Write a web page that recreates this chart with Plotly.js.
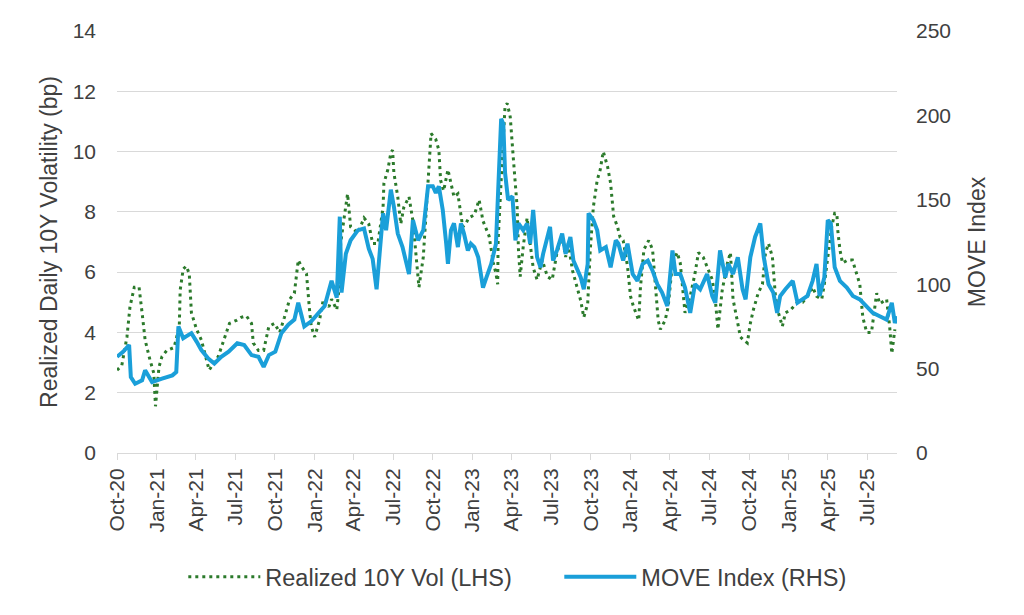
<!DOCTYPE html>
<html>
<head>
<meta charset="utf-8">
<script src="https://cdn.plot.ly/plotly-3.0.1.min.js"></script>
<style>html,body{margin:0;padding:0;background:#fff}#chart{width:1024px;height:615px}</style>
</head>
<body>
<div id="chart"></div>
<script>
// MOVE Index (RHS)
const moveDates = ["2020-10-01","2020-10-15","2020-10-29","2020-11-02","2020-11-12","2020-11-28","2020-12-05","2020-12-21","2021-01-13","2021-02-06","2021-02-15","2021-02-20","2021-03-03","2021-03-22","2021-04-03","2021-04-14","2021-04-30","2021-05-14","2021-05-30","2021-06-16","2021-07-06","2021-07-22","2021-08-08","2021-08-24","2021-09-05","2021-09-17","2021-10-02","2021-10-16","2021-11-01","2021-11-15","2021-11-24","2021-12-08","2021-12-24","2022-01-10","2022-01-24","2022-02-09","2022-02-21","2022-02-28","2022-03-04","2022-03-14","2022-03-25","2022-04-11","2022-04-25","2022-05-06","2022-05-15","2022-05-24","2022-06-08","2022-06-15","2022-06-26","2022-07-03","2022-07-12","2022-07-23","2022-08-07","2022-08-16","2022-08-28","2022-09-09","2022-09-20","2022-10-01","2022-10-08","2022-10-15","2022-10-24","2022-11-01","2022-11-05","2022-11-12","2022-11-19","2022-11-28","2022-12-05","2022-12-12","2022-12-21","2022-12-28","2023-01-05","2023-01-14","2023-01-25","2023-02-02","2023-02-13","2023-02-24","2023-03-01","2023-03-08","2023-03-13","2023-03-17","2023-03-24","2023-04-03","2023-04-10","2023-04-17","2023-04-28","2023-05-07","2023-05-14","2023-05-21","2023-05-30","2023-06-07","2023-06-13","2023-06-29","2023-07-06","2023-07-15","2023-07-27","2023-08-04","2023-08-15","2023-08-22","2023-09-08","2023-09-15","2023-09-24","2023-09-26","2023-10-07","2023-10-16","2023-10-23","2023-11-05","2023-11-16","2023-11-28","2023-12-04","2023-12-15","2023-12-25","2024-01-06","2024-01-17","2024-01-29","2024-02-10","2024-02-21","2024-03-03","2024-03-14","2024-03-26","2024-04-07","2024-04-14","2024-04-25","2024-05-06","2024-05-18","2024-05-29","2024-06-10","2024-06-26","2024-07-08","2024-07-15","2024-07-26","2024-08-07","2024-08-14","2024-08-25","2024-09-05","2024-09-16","2024-09-23","2024-10-04","2024-10-15","2024-10-27","2024-11-04","2024-11-15","2024-11-26","2024-12-05","2024-12-12","2024-12-24","2025-01-10","2025-01-21","2025-02-02","2025-02-13","2025-02-25","2025-03-06","2025-03-13","2025-03-24","2025-04-01","2025-04-08","2025-04-17","2025-04-29","2025-05-15","2025-05-29","2025-06-14","2025-06-30","2025-07-14","2025-07-30","2025-08-15","2025-08-27","2025-09-03","2025-09-08"];
const moveValues = [57,60,64,45,41,43,49,42,44,46,48,75,68,71,66,61,56,53,57,60,65,64,58,57,51,58,60,71,76,79,89,75,78,83,87,102,92,140,95,118,126,132,133,121,115,97,142,132,156,146,130,122,106,138,126,132,158,158,154,158,144,124,112,132,136,122,136,130,120,124,122,116,98,104,112,124,156,198,195,166,150,152,126,136,132,136,124,144,116,110,118,134,114,120,130,118,128,114,104,97,112,142,138,132,120,122,110,126,124,114,124,106,102,112,114,108,100,95,87,120,106,106,98,83,100,97,106,93,89,120,104,112,106,116,97,91,116,128,136,116,100,95,83,93,97,102,89,91,93,102,112,93,104,138,136,110,102,98,93,91,87,83,81,79,89,77,81];

// Realized 10Y Vol (LHS)
const volDates = ["2020-10-01","2020-10-12","2020-10-24","2020-10-31","2020-11-10","2020-11-21","2020-11-28","2020-12-05","2020-12-16","2020-12-25","2020-12-29","2021-01-06","2021-01-13","2021-01-24","2021-02-10","2021-02-22","2021-02-24","2021-03-03","2021-03-10","2021-03-17","2021-03-22","2021-04-03","2021-04-14","2021-05-02","2021-05-23","2021-06-11","2021-06-18","2021-07-04","2021-07-15","2021-07-27","2021-08-08","2021-08-12","2021-08-24","2021-09-05","2021-09-17","2021-09-30","2021-10-12","2021-10-23","2021-11-04","2021-11-15","2021-11-24","2021-12-01","2021-12-13","2021-12-20","2021-12-24","2022-01-01","2022-01-12","2022-01-21","2022-02-03","2022-02-09","2022-02-21","2022-02-25","2022-03-02","2022-03-09","2022-03-18","2022-03-25","2022-04-11","2022-04-25","2022-05-06","2022-05-15","2022-05-27","2022-06-08","2022-06-10","2022-06-19","2022-06-26","2022-06-30","2022-07-03","2022-07-12","2022-07-19","2022-07-26","2022-08-07","2022-08-16","2022-08-23","2022-08-30","2022-09-09","2022-09-15","2022-09-20","2022-09-27","2022-10-08","2022-10-15","2022-10-19","2022-10-26","2022-11-05","2022-11-12","2022-11-19","2022-11-28","2022-12-09","2022-12-16","2022-12-23","2023-01-05","2023-01-16","2023-01-25","2023-02-02","2023-02-08","2023-02-18","2023-02-24","2023-02-28","2023-03-01","2023-03-10","2023-03-17","2023-03-22","2023-03-29","2023-04-05","2023-04-14","2023-04-17","2023-04-21","2023-04-28","2023-05-07","2023-05-14","2023-05-21","2023-05-30","2023-06-11","2023-06-23","2023-07-04","2023-07-15","2023-07-27","2023-08-04","2023-08-10","2023-08-20","2023-09-01","2023-09-08","2023-09-15","2023-09-24","2023-09-30","2023-10-07","2023-10-16","2023-10-23","2023-10-30","2023-11-09","2023-11-16","2023-11-20","2023-11-23","2023-12-02","2023-12-08","2023-12-15","2023-12-25","2024-01-01","2024-01-08","2024-01-20","2024-01-24","2024-02-01","2024-02-12","2024-02-21","2024-02-28","2024-03-05","2024-03-10","2024-03-21","2024-03-28","2024-04-07","2024-04-18","2024-04-25","2024-05-06","2024-05-18","2024-05-29","2024-06-06","2024-06-17","2024-06-26","2024-07-08","2024-07-15","2024-07-21","2024-07-31","2024-08-12","2024-08-19","2024-08-25","2024-09-05","2024-09-11","2024-09-18","2024-09-27","2024-10-04","2024-10-11","2024-10-22","2024-11-01","2024-11-08","2024-11-15","2024-11-24","2024-12-01","2024-12-08","2024-12-17","2024-12-24","2025-01-05","2025-01-21","2025-02-02","2025-02-13","2025-02-25","2025-03-06","2025-03-18","2025-03-24","2025-04-01","2025-04-10","2025-04-17","2025-04-22","2025-04-24","2025-04-29","2025-05-05","2025-05-17","2025-05-28","2025-06-07","2025-06-14","2025-06-21","2025-06-30","2025-07-11","2025-07-23","2025-07-30","2025-08-15","2025-08-22","2025-08-27","2025-09-03"];
const volValues = [2.75,2.9,3.85,4.85,5.5,5.5,4.65,3.75,3.1,2.65,1.55,2.85,3.2,3.4,3.5,4.2,5.4,6.1,6.2,5.95,4.65,4.1,3.75,2.75,3.2,4.0,4.3,4.4,4.5,4.55,4.3,3.65,3.4,3.4,4.2,4.3,4.0,4.5,5.1,5.3,6.4,6.2,5.95,4.75,4.2,3.85,4.4,5.1,4.85,5.1,4.75,5.3,6.95,7.7,8.6,7.5,7.3,7.8,7.6,6.95,6.95,8.15,8.95,9.4,9.95,10.05,9.3,8.5,7.6,8.15,8.5,7.7,6.5,5.5,6.5,7.8,9.15,10.6,10.4,10.05,9.05,8.7,9.4,8.95,8.5,8.6,7.5,7.6,7.8,7.9,8.4,7.7,7.4,7.2,6.3,5.95,5.6,7.05,9.6,11.5,11.6,11.15,9.8,8.15,6.75,5.85,6.85,7.8,6.95,6.15,5.75,6.4,5.85,5.75,6.65,7.2,6.5,6.95,6.05,5.4,5.05,4.5,4.95,6.75,8.15,9.05,9.4,10.0,9.5,8.95,8.4,7.85,7.5,7.15,7.05,6.2,5.2,4.85,4.4,5.5,6.75,7.05,6.75,5.6,4.4,4.1,4.4,4.85,6.3,6.65,6.3,4.65,5.2,5.95,6.65,6.5,6.2,5.75,5.1,4.1,5.4,6.3,6.65,5.1,4.3,3.85,3.75,3.65,4.3,4.75,5.3,5.6,6.65,6.95,6.5,5.2,4.65,4.2,4.65,4.75,5.0,5.0,5.2,5.5,5.2,5.1,5.6,6.5,7.5,7.95,7.95,7.4,6.75,6.3,6.4,6.4,5.95,5.6,4.5,4.0,4.0,5.3,4.95,5.1,4.2,3.3,4.1];

const seriesNames = ["Realized 10Y Vol (LHS)", "MOVE Index (RHS)"];
const leftTitle = "Realized Daily 10Y Volatility (bp)";
const rightTitle = "MOVE Index";

const font = "Liberation Sans, Arial, sans-serif";
const textColor = "#404040";

const traces = [
  {
    x: volDates, y: volValues, name: seriesNames[0], type: "scatter", mode: "lines",
    line: {color: "#2b7a2b", width: 3, dash: "3px,4px"}, yaxis: "y"
  },
  {
    x: moveDates, y: moveValues, name: seriesNames[1], type: "scatter", mode: "lines",
    line: {color: "#1a9fd9", width: 4}, yaxis: "y2"
  }
];

const layout = {
  width: 1024, height: 615,
  margin: {l: 117, r: 127, t: 31, b: 162},
  paper_bgcolor: "#fff", plot_bgcolor: "#fff",
  font: {family: font, color: textColor, size: 21},
  showlegend: true,
  legend: {orientation: "h", x: 0.085, xanchor: "left", y: -0.294, yanchor: "middle",
           font: {size: 23.5, color: textColor}, itemwidth: 72, traceorder: "normal",
           entrywidth: 289, entrywidthmode: "pixels"},
  xaxis: {
    type: "date", range: ["2020-10-01", "2025-09-08"],
    tick0: "2020-10-01", dtick: "M3", tickformat: "%b-%y", tickangle: -90,
    showgrid: false, showline: true, linecolor: "#d9d9d9", linewidth: 1,
    ticks: "outside", ticklen: 6, tickcolor: "#d9d9d9", tickfont: {size: 21},
    zeroline: false, fixedrange: true
  },
  yaxis: {
    range: [0, 14], dtick: 2, showgrid: true, gridcolor: "#d9d9d9", gridwidth: 1,
    zeroline: false, showline: false, ticks: "", ticklabelstandoff: 20,
    tickfont: {size: 21},
    title: {text: leftTitle, font: {size: 23}, standoff: 8}
  },
  yaxis2: {
    range: [0, 250], dtick: 50, overlaying: "y", side: "right", showgrid: false,
    zeroline: false, showline: false, ticks: "", ticklabelstandoff: 18,
    tickfont: {size: 21},
    title: {text: rightTitle, font: {size: 23}, standoff: 18}
  }
};

Plotly.newPlot("chart", traces, layout, {staticPlot: true, displayModeBar: false});
</script>
</body>
</html>
